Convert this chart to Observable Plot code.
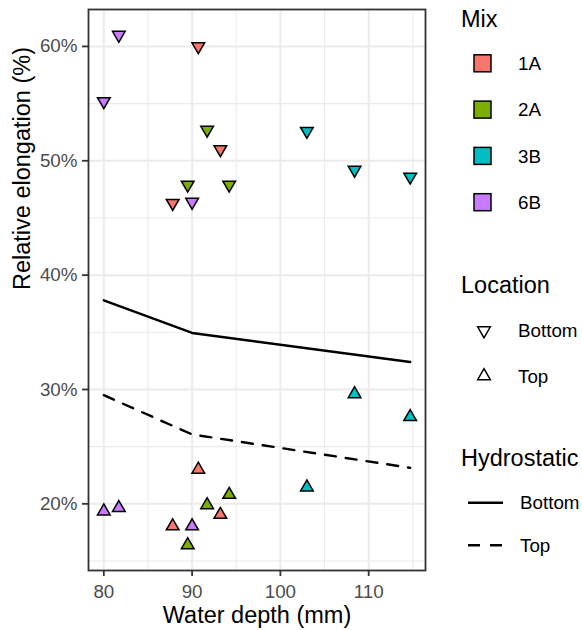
<!DOCTYPE html>
<html><head><meta charset="utf-8">
<script src="https://cdn.jsdelivr.net/npm/d3@7"></script>
<script src="https://cdn.jsdelivr.net/npm/@observablehq/plot@0.6"></script>
<style>
body{margin:0;background:#fff;}
#chart{position:relative;width:582px;height:630px;font-family:"Liberation Sans",Arial,Helvetica,sans-serif;}
#chart svg{position:absolute;left:0;top:0;}
</style></head><body><div id="chart"></div>
<script>
// ---- data ----
const mixes = ["1A", "2A", "3B", "6B"];
const mixColors = ["#F8766D", "#7CAE00", "#00BFC4", "#C77CFF"];
const locations = ["Bottom", "Top"];
const hydroSeries = ["Bottom", "Top"];

const pointMix = ["6B","6B","6B","1A","1A","1A","2A","2A","2A","3B","3B","3B",
                  "6B","6B","6B","1A","1A","1A","2A","2A","2A","3B","3B","3B"];
const pointLocation = ["Bottom","Bottom","Bottom","Bottom","Bottom","Bottom","Bottom","Bottom","Bottom","Bottom","Bottom","Bottom",
                       "Top","Top","Top","Top","Top","Top","Top","Top","Top","Top","Top","Top"];
const pointDepth = [80.0, 81.7, 90.0, 87.8, 90.7, 93.2, 89.5, 91.7, 94.2, 103.0, 108.4, 114.7,
                    80.0, 81.7, 90.0, 87.8, 90.7, 93.2, 89.5, 91.7, 94.2, 103.0, 108.4, 114.7];
const pointElongation = [55.2, 61.0, 46.4, 46.3, 60.0, 51.0, 47.9, 52.7, 47.9, 52.6, 49.2, 48.6,
                         19.35, 19.65, 18.05, 18.05, 23.0, 19.05, 16.4, 19.9, 20.8, 21.45, 29.6, 27.6];

const hydroDepth = [80, 90, 114.7];
const hydroBottom = [37.8, 34.94, 32.4];
const hydroTop = [29.5, 26.07, 23.15];

const xTicks = [80, 90, 100, 110];
const yTicks = [20, 30, 40, 50, 60];
const xMinor = [85, 95, 105, 115];
const yMinor = [15, 25, 35, 45, 55];

// ---- tables ----
const points = pointDepth.map((d, i) => ({depth: d, elong: pointElongation[i], mix: pointMix[i], location: pointLocation[i]}));
const hydroB = hydroDepth.map((d, i) => ({depth: d, elong: hydroBottom[i]}));
const hydroT = hydroDepth.map((d, i) => ({depth: d, elong: hydroTop[i]}));

const allX = pointDepth.concat(hydroDepth);
const allY = pointElongation.concat(hydroBottom, hydroTop);
const expand = (arr) => { const lo = d3.min(arr), hi = d3.max(arr), p = (hi - lo) * 0.05; return [lo - p, hi + p]; };

const sqrt3 = Math.sqrt(3);
const triUp = {draw(ctx, size) { const y = -Math.sqrt(size / (sqrt3 * 3)); ctx.moveTo(0, y * 2); ctx.lineTo(-sqrt3 * y, -y); ctx.lineTo(sqrt3 * y, -y); ctx.closePath(); }};
const triDown = {draw(ctx, size) { const y = Math.sqrt(size / (sqrt3 * 3)); ctx.moveTo(0, y * 2); ctx.lineTo(-sqrt3 * y, -y); ctx.lineTo(sqrt3 * y, -y); ctx.closePath(); }};

const FONT = '"Liberation Sans", Arial, Helvetica, sans-serif';
const grey = "#EBEBEB";

const plot = Plot.plot({
  width: 582, height: 630,
  marginLeft: 88, marginRight: 157, marginTop: 9, marginBottom: 60,
  style: {fontFamily: FONT, fontSize: "18.8px", background: "white", overflow: "visible"},
  x: {domain: expand(allX)},
  y: {domain: expand(allY)},
  color: {domain: mixes, range: mixColors},
  symbol: {domain: locations, range: [triDown, triUp]},
  marks: [
    Plot.gridX(xMinor, {stroke: grey, strokeOpacity: 1, strokeWidth: 1.1}),
    Plot.gridY(yMinor, {stroke: grey, strokeOpacity: 1, strokeWidth: 1.1}),
    Plot.gridX(xTicks, {stroke: grey, strokeOpacity: 1, strokeWidth: 2}),
    Plot.gridY(yTicks, {stroke: grey, strokeOpacity: 1, strokeWidth: 2}),
    Plot.line(hydroB, {x: "depth", y: "elong", stroke: "black", strokeWidth: 2.4}),
    Plot.line(hydroT, {x: "depth", y: "elong", stroke: "black", strokeWidth: 2.4, strokeDasharray: "11,10"}),
    Plot.dot(points, {x: "depth", y: "elong", symbol: "location", fill: "mix", stroke: "black", strokeWidth: 1.5, r: 4.7}),
    Plot.frame({stroke: "#333333", strokeWidth: 1.8}),
    Plot.axisX(xTicks, {tickSize: 6, tickPadding: 8, fontSize: 18.8, fill: "#4D4D4D", stroke: "#333333", strokeWidth: 1.8, label: null}),
    Plot.axisY(yTicks, {tickSize: 6, tickPadding: 5, fontSize: 18.8, fill: "#4D4D4D", stroke: "#333333", strokeWidth: 1.8, label: null, tickFormat: d => d + "%"}),
    Plot.text(["Water depth (mm)"], {text: d => d, frameAnchor: "bottom", lineAnchor: "middle", dy: 44.5, fontSize: 23.5, fill: "black"}),
    Plot.text(["Relative elongation (%)"], {text: d => d, frameAnchor: "left", lineAnchor: "middle", rotate: -90, dx: -66, fontSize: 23.5, fill: "black"})
  ]
});
document.getElementById("chart").appendChild(plot);

// ---- legend ----
const lg = d3.select("#chart").append("svg").attr("width", 582).attr("height", 630)
  .style("font-family", FONT).style("pointer-events", "none");
const title = (t, y) => lg.append("text").attr("x", 461).attr("y", y).attr("font-size", 23.5).attr("fill", "black").text(t);
const label = (t, x, y) => lg.append("text").attr("x", x).attr("y", y).attr("dy", "0.36em").attr("font-size", 18.8).attr("fill", "black").text(t);

title("Mix", 27);
mixes.forEach((m, i) => {
  const cy = 63.3 + i * 46.3;
  lg.append("rect").attr("x", 474).attr("y", cy - 8.5).attr("width", 17).attr("height", 17)
    .attr("fill", mixColors[i]).attr("stroke", "black").attr("stroke-width", 1.5);
  label(m, 518, cy);
});

title("Location", 293);
const symSize = Math.PI * 4.7 * 4.7;
[triDown, triUp].forEach((s, i) => {
  const cy = 330.5 + i * 45.5;
  lg.append("path").attr("d", d3.symbol(s, symSize)()).attr("transform", `translate(484,${cy})`)
    .attr("fill", "white").attr("stroke", "black").attr("stroke-width", 1.5);
  label(locations[i], 518, cy);
});

title("Hydrostatic", 466);
hydroSeries.forEach((h, i) => {
  const cy = 502.7 + i * 42.5;
  lg.append("line").attr("x1", 468).attr("x2", 503).attr("y1", cy).attr("y2", cy)
    .attr("stroke", "black").attr("stroke-width", 2.4).attr("stroke-dasharray", i === 1 ? "12,10" : null);
  label(h, 520, cy);
});
</script>
</body></html>
